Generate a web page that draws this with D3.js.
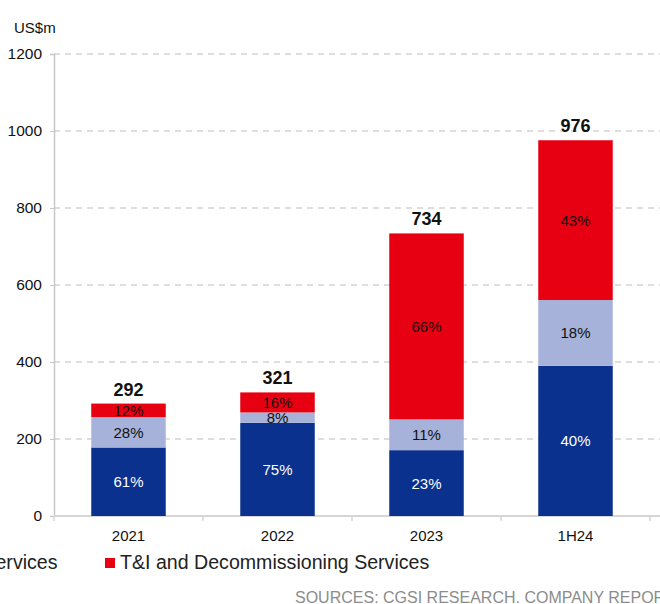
<!DOCTYPE html>
<html>
<head>
<meta charset="utf-8">
<script src="https://cdn.jsdelivr.net/npm/d3@7/dist/d3.min.js"></script>
<style>
  html, body { margin: 0; padding: 0; background: #fff; }
  svg { display: block; font-family: "Liberation Sans", Arial, sans-serif; }
</style>
</head>
<body>
<svg id="chart" width="660" height="604"></svg>
<script>
// Revenue by segment, US$m
const categories = ["2021", "2022", "2023", "1H24"];
const seriesNames = ["Offshore Vessel Services", "Marine Support Services", "T&I and Decommissioning Services"];
const vesselValues  = [178, 242, 171, 390];
const supportValues = [79, 27, 80, 171];
const tiValues      = [35, 52, 483, 415];
const vesselPct  = ["61%", "75%", "23%", "40%"];
const supportPct = ["28%", "8%", "11%", "18%"];
const tiPct      = ["12%", "16%", "66%", "43%"];
const yTicks = [0, 200, 400, 600, 800, 1000, 1200];

const colors = ["#0b318f", "#a6b2d9", "#e60012"];
const labelColors = ["#ffffff", "#111111", "#111111"];

const svg = d3.select("#chart");
const plotLeft = 54, plotRight = 650, plotTop = 54, plotBottom = 516;

const x = d3.scaleBand().domain(categories).range([plotLeft, plotRight]).paddingInner(0.5).paddingOuter(0.25);
const y = d3.scaleLinear().domain([0, 1200]).range([plotBottom, plotTop]);

const rows = categories.map((c, i) => ({
  cat: c,
  s0: vesselValues[i], s1: supportValues[i], s2: tiValues[i],
  p: [vesselPct[i], supportPct[i], tiPct[i]]
}));
const stacked = d3.stack().keys(["s0", "s1", "s2"])(rows);

// dashed gridlines
svg.append("g").selectAll("line")
  .data(yTicks.filter(t => t > 0))
  .join("line")
  .attr("x1", plotLeft).attr("x2", 660)
  .attr("y1", d => y(d)).attr("y2", d => y(d))
  .attr("stroke", "#bdbdbd").attr("stroke-width", 1.2)
  .attr("stroke-dasharray", "6,5");

// y axis
const yAxis = svg.append("g")
  .attr("transform", `translate(${plotLeft},0)`)
  .call(d3.axisLeft(y).tickValues(yTicks).tickFormat(d3.format("d")).tickSize(4).tickPadding(8));
yAxis.select(".domain").attr("stroke", "#c8c8c8").attr("stroke-width", 1.5);
yAxis.selectAll(".tick line").attr("stroke", "#c8c8c8");
yAxis.selectAll(".tick text")
  .attr("font-size", 15.5).attr("fill", "#111")
  .attr("font-family", "Liberation Sans, Arial, sans-serif");

// x axis line with boundary ticks
svg.append("line")
  .attr("x1", plotLeft).attr("x2", 660)
  .attr("y1", plotBottom).attr("y2", plotBottom)
  .attr("stroke", "#d6d6d6").attr("stroke-width", 2);
const step = x.step();
svg.append("g").selectAll("line")
  .data(d3.range(categories.length + 1))
  .join("line")
  .attr("x1", i => plotLeft + i * step).attr("x2", i => plotLeft + i * step)
  .attr("y1", plotBottom).attr("y2", plotBottom + 5)
  .attr("stroke", "#d6d6d6").attr("stroke-width", 1.5);

svg.append("g").selectAll("text")
  .data(categories)
  .join("text")
  .attr("x", d => x(d) + x.bandwidth() / 2)
  .attr("y", 541)
  .attr("text-anchor", "middle")
  .attr("font-size", 15).attr("fill", "#111")
  .text(d => d);

// stacked bars
const layers = svg.append("g").selectAll("g")
  .data(stacked)
  .join("g")
  .attr("fill", (d, i) => colors[i]);
layers.selectAll("rect")
  .data(d => d)
  .join("rect")
  .attr("x", d => x(d.data.cat))
  .attr("width", x.bandwidth())
  .attr("y", d => y(d[1]))
  .attr("height", d => y(d[0]) - y(d[1]));

// segment percentage labels
stacked.forEach((layer, li) => {
  svg.append("g").selectAll("text")
    .data(layer)
    .join("text")
    .attr("x", d => x(d.data.cat) + x.bandwidth() / 2)
    .attr("y", d => (y(d[0]) + y(d[1])) / 2 + 5.5)
    .attr("text-anchor", "middle")
    .attr("font-size", 15)
    .attr("fill", labelColors[li])
    .text(d => d.data.p[li]);
});

// totals above bars
svg.append("g").selectAll("text")
  .data(rows)
  .join("text")
  .attr("x", d => x(d.cat) + x.bandwidth() / 2)
  .attr("y", d => y(d.s0 + d.s1 + d.s2) - 8)
  .attr("text-anchor", "middle")
  .attr("font-size", 18).attr("font-weight", "bold").attr("fill", "#111")
  .text(d => d.s0 + d.s1 + d.s2);

// unit label
svg.append("text")
  .attr("x", 14).attr("y", 33)
  .attr("font-size", 15).attr("fill", "#111")
  .text("US$m");

// legend (runs wider than the frame on the left)
const legend = [
  { name: seriesNames[1], color: colors[1], x: -172 },
  { name: seriesNames[2], color: colors[2], x: 105 }
];
const lg = svg.append("g").selectAll("g").data(legend).join("g")
  .attr("transform", d => `translate(${d.x},0)`);
lg.append("rect").attr("x", 0).attr("y", 558).attr("width", 10).attr("height", 10)
  .attr("fill", d => d.color);
lg.append("text").attr("x", 15).attr("y", 569)
  .attr("font-size", 19.6).attr("fill", "#222")
  .text(d => d.name);

// source note
svg.append("text")
  .attr("x", 295).attr("y", 603)
  .attr("font-size", 16).attr("fill", "#8c8c8c")
  .text("SOURCES: CGSI RESEARCH. COMPANY REPORTS");
</script>
</body>
</html>
